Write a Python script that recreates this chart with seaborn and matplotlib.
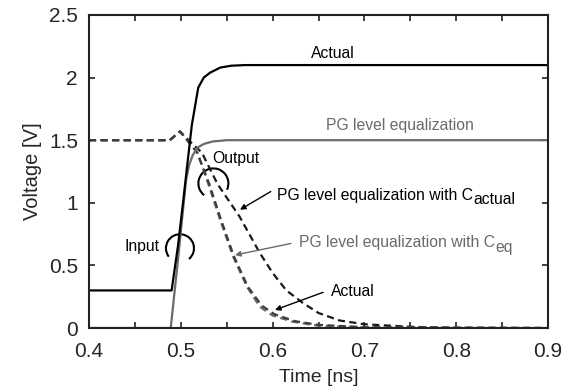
import numpy as np
import pandas as pd
import matplotlib
matplotlib.use("Agg")
import matplotlib.pyplot as plt
from matplotlib.patches import Arc
from matplotlib.transforms import ScaledTranslation
from matplotlib.ticker import MultipleLocator
import seaborn as sns

# ---- data ----
t_in_actual = [0.40, 0.490, 0.497, 0.5024, 0.507, 0.512, 0.519, 0.525, 0.532, 0.543, 0.555, 0.570, 0.90]
v_in_actual = [0.30, 0.30, 0.66, 1.00, 1.30, 1.62, 1.92, 2.00, 2.04, 2.08, 2.095, 2.10, 2.10]

t_in_pg = [0.40, 0.489, 0.497, 0.5057, 0.509, 0.513, 0.518, 0.525, 0.535, 0.550, 0.90]
v_in_pg = [0.00, 0.00, 0.55, 1.18, 1.30, 1.38, 1.44, 1.47, 1.49, 1.50, 1.50]

t_out_cact = [0.40, 0.488, 0.499, 0.510, 0.523, 0.540, 0.564, 0.586, 0.600, 0.615, 0.633, 0.650, 0.673, 0.700, 0.750, 0.800, 0.90]
v_out_cact = [1.50, 1.50, 1.57, 1.49, 1.40, 1.15, 0.89, 0.60, 0.44, 0.30, 0.20, 0.12, 0.06, 0.03, 0.01, 0.00, 0.00]

t_out_ceq = [0.40, 0.488, 0.499, 0.508, 0.518, 0.530, 0.543, 0.557, 0.572, 0.586, 0.600, 0.622, 0.648, 0.700, 0.90]
v_out_ceq = [1.50, 1.50, 1.57, 1.49, 1.40, 1.15, 0.86, 0.57, 0.33, 0.17, 0.10, 0.05, 0.02, 0.005, 0.00]

t_out_actual = [0.40, 0.488, 0.499, 0.508, 0.518, 0.531, 0.544, 0.558, 0.573, 0.588, 0.602, 0.624, 0.650, 0.700, 0.90]
v_out_actual = [1.50, 1.50, 1.57, 1.49, 1.40, 1.15, 0.86, 0.57, 0.33, 0.18, 0.11, 0.055, 0.025, 0.006, 0.00]

x_ticks = [0.4, 0.5, 0.6, 0.7, 0.8, 0.9]
x_ticklabels = ["0.4", "0.5", "0.6", "0.7", "0.8", "0.9"]
y_ticks = [0, 0.5, 1, 1.5, 2, 2.5]
y_ticklabels = ["0", "0.5", "1", "1.5", "2", "2.5"]

# ---- style ----
sns.set_style("ticks")
plt.rcParams["font.family"] = ["Liberation Sans", "DejaVu Sans"]

BLACK = "#000000"
GRAY = "#6a6a6a"
DGRAY = "#3c3c3c"

fig = plt.figure(figsize=(5.65, 3.90), dpi=100)
ax = fig.add_axes([89 / 565, 62 / 390, (548 - 89) / 565, (328 - 15) / 390])

# output curves (dashed)
dash = (3.2, 2.0)
sns.lineplot(x=t_out_cact, y=v_out_cact, ax=ax, color="#1a1a1a", lw=1.6, sort=False)
ax.lines[-1].set_dashes(dash)
sns.lineplot(x=t_out_ceq, y=v_out_ceq, ax=ax, color=GRAY, lw=1.6, sort=False)
ax.lines[-1].set_dashes(dash)
sns.lineplot(x=t_out_actual, y=v_out_actual, ax=ax, color=DGRAY, lw=1.6, sort=False)
ax.lines[-1].set_dashes(dash)

# input curves (solid)
sns.lineplot(x=t_in_pg, y=v_in_pg, ax=ax, color=GRAY, lw=1.6, sort=False)
sns.lineplot(x=t_in_actual, y=v_in_actual, ax=ax, color=BLACK, lw=1.6, sort=False)

ax.set_xlim(0.4, 0.9)
ax.set_ylim(0, 2.5)
ax.set_xticks(x_ticks)
ax.set_xticklabels(x_ticklabels)
ax.set_yticks(y_ticks)
ax.set_yticklabels(y_ticklabels)
ax.xaxis.set_minor_locator(MultipleLocator(0.05))
ax.tick_params(which="both", direction="in", top=True, right=True,
               length=4, width=1.2, color="#222222")
ax.tick_params(axis="both", which="major", labelsize=15)
ax.tick_params(axis="x", which="major", pad=10)
ax.tick_params(axis="y", which="major", pad=8)
for sp in ax.spines.values():
    sp.set_visible(True)
    sp.set_linewidth(1.5)
    sp.set_color("#222222")

ax.set_xlabel("Time [ns]", fontsize=14, labelpad=6)
ax.set_ylabel("Voltage [V]", fontsize=14.5, labelpad=5)

FS = 11.3

def label_with_sub(x, y, main, sub, color):
    t = ax.text(x, y, main, fontsize=FS, color=color, ha="left", va="center")
    ax.annotate(sub, xy=(1, 0), xycoords=t, xytext=(0.3, -3.2),
                textcoords="offset points", fontsize=FS, color=color,
                ha="left", va="bottom")
    return t

ax.text(0.666, 2.19, "Actual", fontsize=FS, color=BLACK, ha="center", va="center")
ax.text(0.739, 1.62, "PG level equalization", fontsize=FS, color=GRAY, ha="center", va="center")
ax.text(0.560, 1.35, "Output", fontsize=FS, color=BLACK, ha="center", va="center")
ax.text(0.4577, 0.647, "Input", fontsize=FS, color=BLACK, ha="center", va="center")

label_with_sub(0.6048, 1.062, "PG level equalization with C", "actual", BLACK)
label_with_sub(0.6288, 0.679, "PG level equalization with C", "eq", GRAY)
ax.text(0.6636, 0.288, "Actual", fontsize=FS, color=BLACK, ha="left", va="center")

arrow_kw = dict(arrowstyle="-|>", lw=1.0, mutation_scale=8, shrinkA=0, shrinkB=0)
ax.annotate("", xy=(0.5645, 0.945), xytext=(0.598, 1.09),
            arrowprops=dict(color=BLACK, **arrow_kw))
ax.annotate("", xy=(0.559, 0.583), xytext=(0.620, 0.675),
            arrowprops=dict(color=GRAY, **arrow_kw))
ax.annotate("", xy=(0.6026, 0.144), xytext=(0.655, 0.285),
            arrowprops=dict(color=BLACK, **arrow_kw))

# circle marks (drawn in physical units around a data anchor)
def circ_arc(cx, cy, r_in, th1, th2):
    trans = fig.dpi_scale_trans + ScaledTranslation(cx, cy, ax.transData)
    ax.add_patch(Arc((0, 0), 2 * r_in, 2 * r_in, theta1=th1, theta2=th2,
                     transform=trans, color=BLACK, lw=1.5))

circ_arc(0.5355, 1.155, 0.15, -25, 232)
circ_arc(0.4991, 0.637, 0.14, -50, 217)

fig.savefig("out.png", dpi=100)
